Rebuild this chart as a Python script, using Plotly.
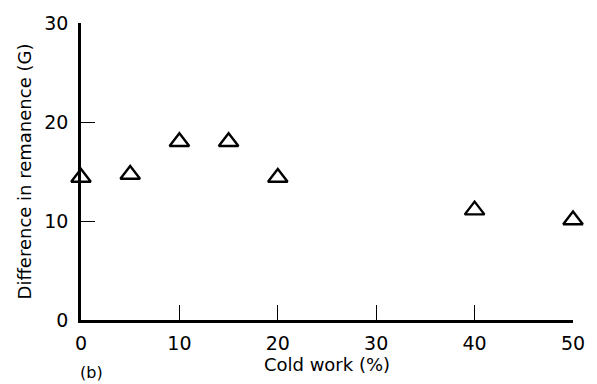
import plotly.graph_objects as go

cold_work = [0, 5, 10, 15, 20, 40, 50]
remanence_diff = [14.4, 14.7, 18.0, 18.0, 14.4, 11.1, 10.1]

x_ticks = [0, 10, 20, 30, 40, 50]
y_ticks = [0, 10, 20, 30]

font = "DejaVu Sans"

fig = go.Figure()
fig.add_trace(go.Scatter(
    x=cold_work, y=remanence_diff, mode="markers",
    marker=dict(symbol="triangle-up-open", size=17, color="black",
                line=dict(width=2.4, color="black")),
    cliponaxis=False, showlegend=False,
))

fig.update_layout(
    width=597, height=384,
    margin=dict(l=81, r=24, t=21, b=64),
    paper_bgcolor="white", plot_bgcolor="white",
    font=dict(family=font, size=18, color="black"),
    xaxis=dict(
        range=[0, 50], tickvals=x_ticks, ticks="inside", ticklen=15,
        tickwidth=1.2, tickcolor="black", showline=True, linewidth=2.5,
        linecolor="black", showgrid=False, zeroline=False,
        tickfont=dict(size=19), ticklabelstandoff=4,
        title=dict(text="Cold work (%)", font=dict(size=18), standoff=2),
    ),
    yaxis=dict(
        range=[0, 30], tickvals=y_ticks, ticks="inside", ticklen=14,
        tickwidth=1.2, tickcolor="black", showline=True, linewidth=2.5,
        linecolor="black", showgrid=False, zeroline=False,
        tickfont=dict(size=19), ticklabelstandoff=6,
        title=dict(text="Difference in remanence (G)", font=dict(size=18), standoff=8),
    ),
    annotations=[dict(
        text="(b)", x=0, y=0, xref="paper", yref="paper",
        xanchor="left", yanchor="middle", xshift=-3, yshift=-52,
        showarrow=False, font=dict(size=16),
    )],
)

fig.write_html("out.html")
